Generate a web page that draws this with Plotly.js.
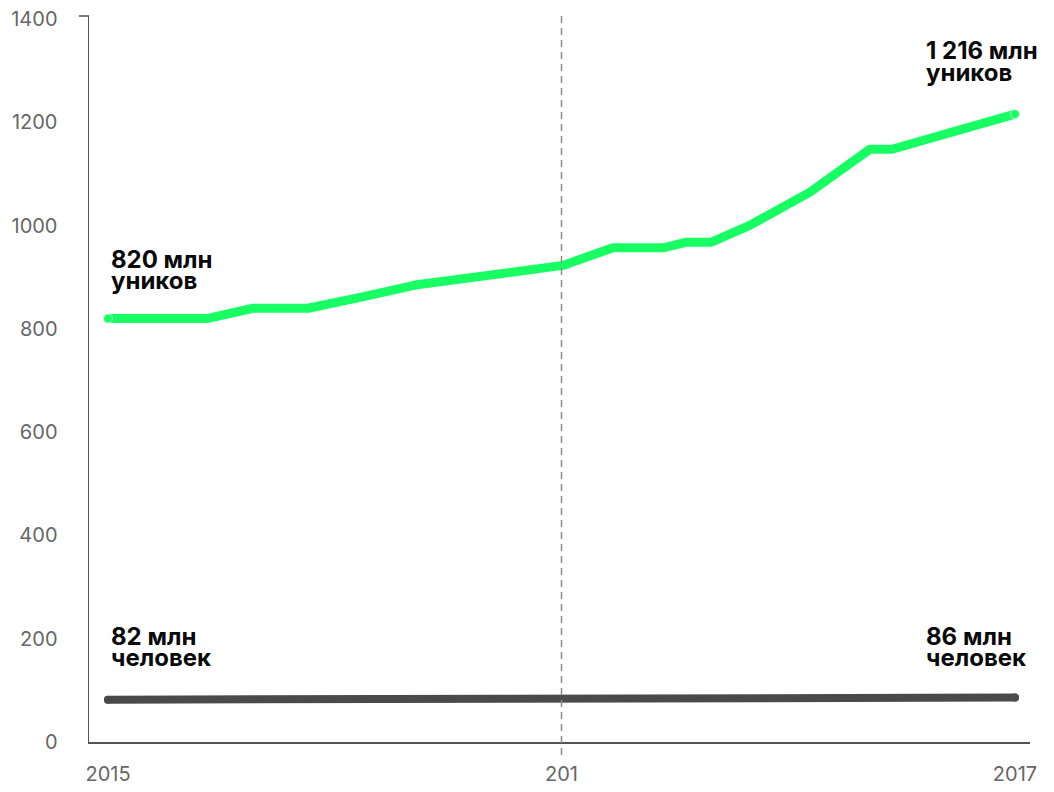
<!DOCTYPE html>
<html>
<head>
<meta charset="utf-8">
<script src="https://cdn.plot.ly/plotly-3.0.1.min.js"></script>
<style>
  html, body { margin: 0; padding: 0; background: #ffffff; }
  #chart { width: 1054px; height: 792px; }
</style>
</head>
<body>
<div id="chart"></div>
<script>
// Unique users (millions) over time, decimal years
const uniqueDates = [2015, 2015.218, 2015.320, 2015.441, 2015.551, 2015.677, 2016.003, 2016.113,
                     2016.224, 2016.276, 2016.331, 2016.416, 2016.548, 2016.680, 2016.729, 2017];
const uniqueValues = [820, 820, 840, 840, 860, 885, 923, 957, 957, 968, 968, 1001, 1065, 1148, 1148, 1216];

// Actual people (millions)
const peopleDates = [2015, 2017];
const peopleValues = [82, 86];

// Axis ticks
const yTicks = [0, 200, 400, 600, 800, 1000, 1200, 1400];
const xTickVals = [2015, 2016, 2017];
const xTickText = ['2015', '201<br>6', '2017'];

const unitMln = 'млн';
const wordUniques = 'уников';
const wordPeople = 'человек';

const green = '#17ff62';
const dark = '#4a4a4a';
const axisColor = '#555555';
const tickColor = '#666666';
const font = 'Inter, Roboto, "Open Sans", sans-serif';

// plot area in pixels
const L = 89, R = 24, T = 16, B = 50;
const W = 1054 - L - R, H = 792 - T - B;
const px = p => (p - L) / W;          // page x -> paper x
const py = p => (792 - B - p) / H;    // page y -> paper y

const fmt = n => String(n).replace(/\B(?=(\d{3})+(?!\d))/g, ' ');

const traces = [
  {
    x: peopleDates, y: peopleValues, type: 'scatter', mode: 'lines+markers',
    line: { color: dark, width: 8 },
    marker: { color: dark, size: 8 },
    hoverinfo: 'skip', showlegend: false
  },
  {
    x: uniqueDates, y: uniqueValues, type: 'scatter', mode: 'lines+markers',
    line: { color: green, width: 9 },
    marker: { color: green, size: uniqueDates.map((_, i) => (i === 0 || i === uniqueDates.length - 1) ? 9 : 0) },
    hoverinfo: 'skip', showlegend: false
  }
];

function label(text, xPage, yPage) {
  return {
    xref: 'paper', yref: 'paper', x: px(xPage), y: py(yPage),
    xanchor: 'left', yanchor: 'middle', showarrow: false,
    text: text, align: 'left', borderpad: 0,
    font: { family: font, size: 24, color: '#0a0a0a', weight: 700 }
  };
}

const firstU = uniqueValues[0], lastU = uniqueValues[uniqueValues.length - 1];
const firstP = peopleValues[0], lastP = peopleValues[peopleValues.length - 1];

const annotations = [
  label(fmt(firstU) + ' ' + unitMln, 110, 259),
  label(wordUniques, 110, 280),
  label(fmt(lastU) + ' ' + unitMln, 925, 51),
  label(wordUniques, 925, 73),
  label(fmt(firstP) + ' ' + unitMln, 110, 636),
  label(wordPeople, 110, 657),
  label(fmt(lastP) + ' ' + unitMln, 925, 636),
  label(wordPeople, 925, 657)
];

const xMin = 2015 - (108 - L) / 453.5;
const xMax = 2017 + (1054 - R - 1015) / 453.5;

const layout = {
  width: 1054, height: 792,
  margin: { l: L, r: R, t: T, b: B, pad: 0 },
  paper_bgcolor: '#ffffff', plot_bgcolor: '#ffffff',
  font: { family: font },
  xaxis: {
    range: [xMin, xMax], showgrid: false, zeroline: false,
    showline: true, linecolor: axisColor, linewidth: 1.5,
    tickmode: 'array', tickvals: xTickVals, ticktext: xTickText,
    ticks: '', ticklabelstandoff: 13,
    tickfont: { family: font, size: 20, color: tickColor }
  },
  yaxis: {
    range: [0, 1406], showgrid: false, zeroline: false,
    showline: true, linecolor: axisColor, linewidth: 1.5,
    tickmode: 'array', tickvals: yTicks,
    ticks: '', ticklabelstandoff: 26,
    tickfont: { family: font, size: 20, color: tickColor }
  },
  shapes: [
    { type: 'line', xref: 'x', yref: 'paper', x0: 2016, x1: 2016, y0: -13 / H, y1: 1,
      line: { color: '#8c8c8c', width: 1.5, dash: '7px,5px' } },
    { type: 'line', xref: 'paper', yref: 'paper', x0: -10 / W, x1: 0, y0: 1, y1: 1,
      line: { color: axisColor, width: 1.5 } }
  ],
  annotations: annotations
};

Plotly.newPlot('chart', traces, layout, { staticPlot: true, displayModeBar: false }).then(() => {
  document.querySelectorAll('.scatterlayer path.js-line').forEach(p => {
    p.style.strokeLinejoin = 'round';
    p.style.strokeLinecap = 'round';
  });
});
</script>
</body>
</html>
